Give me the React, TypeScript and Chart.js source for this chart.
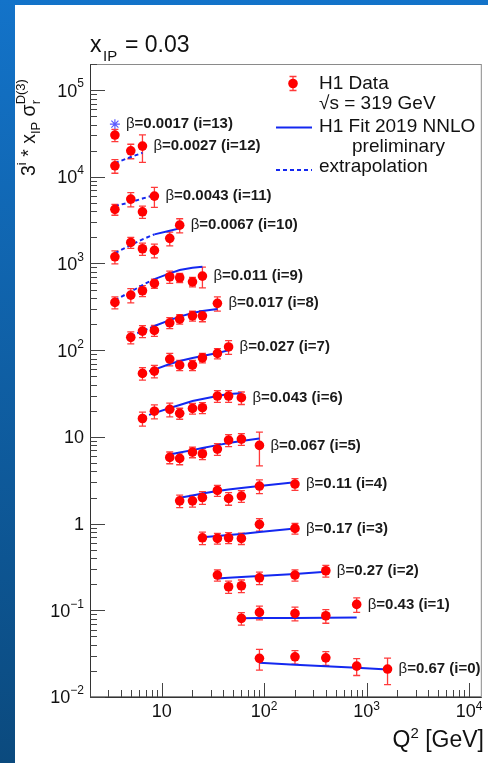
import React, { useEffect, useRef } from 'react';
import { Chart, registerables } from 'chart.js';

Chart.register(...registerables);

const FONT = '"Liberation Sans", Arial, Helvetica, sans-serif';

// beta value of each series i = 0..13
const betaLabels = ['0.67', '0.43', '0.27', '0.17', '0.11', '0.067', '0.043', '0.027', '0.017', '0.011', '0.0067', '0.0043', '0.0027', '0.0017'];

// Q^2 values (GeV^2) of the measured points of each series i
const q2Points: number[][] = [
  [90, 200, 400, 800, 1600],
  [60, 90, 200, 400, 800],
  [35, 45, 60, 90, 200, 400],
  [25, 35, 45, 60, 90, 200],
  [15, 20, 25, 35, 45, 60, 90, 200],
  [12, 15, 20, 25, 35, 45, 60, 90],
  [6.5, 8.5, 12, 15, 20, 25, 35, 45, 60],
  [6.5, 8.5, 12, 15, 20, 25, 35, 45],
  [5, 6.5, 8.5, 12, 15, 20, 25, 35],
  [3.5, 5, 6.5, 8.5, 12, 15, 20, 25],
  [3.5, 5, 6.5, 8.5, 12, 15],
  [3.5, 5, 6.5, 8.5],
  [3.5, 5, 6.5],
  [3.5],
];

// 3^i * x_IP * sigma_r^D(3)
const sigmaValues: number[][] = [
  [0.0279, 0.0291, 0.0283, 0.0227, 0.021],
  [0.0807, 0.0946, 0.092, 0.0865, 0.117],
  [0.255, 0.187, 0.192, 0.237, 0.255, 0.286],
  [0.686, 0.675, 0.686, 0.675, 0.98, 0.88],
  [1.83, 1.83, 2.0, 2.41, 1.95, 2.08, 2.71, 2.86],
  [5.8, 5.65, 6.68, 6.39, 7.23, 9.18, 9.43, 7.98],
  [16.3, 19.8, 20.8, 18.7, 21.3, 21.7, 29.6, 29.6, 28.3],
  [54, 57.4, 79, 67.3, 67.3, 81.6, 91.8, 109],
  [140.6, 166, 169, 207, 228, 249, 249, 347],
  [356, 432, 485, 589, 703, 685, 615, 716],
  [1195, 1750, 1480, 1416, 1950, 2770],
  [4210, 5530, 3950, 5990],
  [13400, 19950, 22600],
  [30300],
];

// relative total uncertainties
const relErrors: number[][] = [
  [0.27, 0.18, 0.18, 0.22, 0.34],
  [0.165, 0.18, 0.18, 0.18, 0.19],
  [0.15, 0.16, 0.165, 0.165, 0.15, 0.155],
  [0.165, 0.14, 0.145, 0.15, 0.165, 0.14],
  [0.165, 0.155, 0.165, 0.145, 0.165, 0.155, 0.18, 0.155],
  [0.155, 0.155, 0.14, 0.145, 0.155, 0.16, 0.155, 0.42],
  [0.185, 0.185, 0.18, 0.145, 0.14, 0.145, 0.155, 0.155, 0.165],
  [0.165, 0.165, 0.165, 0.135, 0.135, 0.125, 0.135, 0.18],
  [0.16, 0.16, 0.145, 0.145, 0.125, 0.13, 0.145, 0.185],
  [0.16, 0.185, 0.145, 0.12, 0.16, 0.12, 0.125, 0.27],
  [0.17, 0.145, 0.16, 0.18, 0.18, 0.185],
  [0.145, 0.185, 0.16, 0.26],
  [0.18, 0.19, 0.35],
  [0.16],
];

// H1 Fit 2019 NNLO at the same Q^2 values
const fitValues: number[][] = [
  [0.0248, 0.0236, 0.0227, 0.0217, 0.0207],
  [0.0807, 0.0813, 0.0817, 0.082, 0.0828],
  [0.233, 0.238, 0.242, 0.249, 0.263, 0.278],
  [0.694, 0.718, 0.737, 0.757, 0.798, 0.88],
  [1.99, 2.11, 2.22, 2.37, 2.47, 2.57, 2.71, 2.99],
  [6.28, 6.59, 7.04, 7.43, 8.04, 8.48, 8.95, 9.61],
  [16.9, 18.8, 21.5, 23.3, 25.9, 27.3, 29.6, 31.2, 31.8],
  [54, 59.7, 69.2, 74.9, 81.1, 85.5, 92.6, 100],
  [146, 166, 190, 222, 244, 268, 283, 298],
  [378, 472, 564, 661, 769, 840, 892, 916],
  [1318, 1630, 1897, 2168, 2385, 2540],
  [4590, 5110, 5610, 6150],
  [14400, 16900, 18900],
  [40500],
];

const extrapolationBelowQ2 = 8.5;

const xDecades = [1, 2, 3, 4];
const yDecades = [-2, -1, 0, 1, 2, 3, 4, 5];
const xRange = [2, 13300];
const yRange = [0.01, 2e5];

const RED = '#ff0000';
const ERR = '#ff3a3a';
const BLUE = '#1428f0';
const DASH = [4, 3];

function decadeLabel(d: number) {
  if (d === 0) return { base: '1', sup: '' };
  if (d === 1) return { base: '10', sup: '' };
  return { base: '10', sup: d < 0 ? '\u2212' + -d : String(d) };
}

function drawErrorBar(ctx: CanvasRenderingContext2D, x: number, yTop: number, yBot: number) {
  ctx.beginPath();
  ctx.moveTo(x, yTop);
  ctx.lineTo(x, yBot);
  ctx.moveTo(x - 3.5, yTop);
  ctx.lineTo(x + 3.5, yTop);
  ctx.moveTo(x - 3.5, yBot);
  ctx.lineTo(x + 3.5, yBot);
  ctx.stroke();
}

const h1Plugin = {
  id: 'h1Decor',
  beforeDraw(chart: any) {
    const ctx: CanvasRenderingContext2D = chart.ctx;
    const w = chart.width, h = chart.height;
    ctx.save();
    const g = ctx.createLinearGradient(0, 0, 0, h);
    g.addColorStop(0, '#1373c9');
    g.addColorStop(1, '#0b4a7e');
    ctx.fillStyle = g;
    ctx.fillRect(0, 0, w, h);
    ctx.fillStyle = '#ffffff';
    ctx.fillRect(15, 5, w - 15, h - 5);
    ctx.restore();
  },
  beforeDatasetsDraw(chart: any) {
    const ctx: CanvasRenderingContext2D = chart.ctx;
    const xs = chart.scales.x, ys = chart.scales.y;
    ctx.save();
    ctx.strokeStyle = ERR;
    ctx.lineWidth = 1.3;
    q2Points.forEach((qs, i) => {
      qs.forEach((q, k) => {
        const v = sigmaValues[i][k], e = relErrors[i][k] * v;
        drawErrorBar(ctx, xs.getPixelForValue(q), ys.getPixelForValue(v + e), ys.getPixelForValue(v - e));
      });
    });
    ctx.restore();
  },
  afterDatasetsDraw(chart: any) {
    const ctx: CanvasRenderingContext2D = chart.ctx;
    const xs = chart.scales.x, ys = chart.scales.y;
    const a = chart.chartArea;
    ctx.save();

    // frame
    ctx.strokeStyle = '#8a8a8a';
    ctx.lineWidth = 1;
    ctx.strokeRect(a.left + 0.5, a.top + 0.5, a.right - a.left - 1, a.bottom - a.top - 1);
    ctx.strokeStyle = '#333333';
    ctx.beginPath();
    ctx.moveTo(a.left + 0.5, a.top);
    ctx.lineTo(a.left + 0.5, a.bottom + 0.5);
    ctx.lineTo(a.right, a.bottom + 0.5);
    ctx.stroke();

    // y ticks
    ctx.strokeStyle = '#444444';
    ctx.beginPath();
    for (let d = -2; d <= 5; d++) {
      for (let m = 1; m <= 9; m++) {
        const v = m * Math.pow(10, d);
        if (v < yRange[0] || v > yRange[1]) continue;
        const y = Math.round(ys.getPixelForValue(v)) + 0.5;
        const len = m === 1 ? 15 : 7;
        ctx.moveTo(a.left, y);
        ctx.lineTo(a.left + len, y);
      }
    }
    // x ticks
    for (let d = 0; d <= 4; d++) {
      for (let m = 1; m <= 9; m++) {
        const v = m * Math.pow(10, d);
        if (v < xRange[0] || v > xRange[1]) continue;
        const x = Math.round(xs.getPixelForValue(v)) + 0.5;
        const len = m === 1 ? 14 : 7;
        ctx.moveTo(x, a.bottom);
        ctx.lineTo(x, a.bottom - len);
      }
    }
    ctx.stroke();

    // tick labels
    ctx.fillStyle = '#111111';
    ctx.textBaseline = 'middle';
    ctx.textAlign = 'left';
    yDecades.forEach((d) => {
      const y = ys.getPixelForValue(Math.pow(10, d));
      const { base, sup } = decadeLabel(d);
      ctx.font = `18px ${FONT}`;
      const wb = ctx.measureText(base).width;
      ctx.font = `12px ${FONT}`;
      const ws = sup ? ctx.measureText(sup).width : 0;
      const x0 = 84 - wb - ws;
      ctx.font = `18px ${FONT}`;
      ctx.fillText(base, x0, y + 1.5);
      if (sup) {
        ctx.font = `12px ${FONT}`;
        ctx.fillText(sup, x0 + wb, y - 6);
      }
    });
    xDecades.forEach((d) => {
      const x = xs.getPixelForValue(Math.pow(10, d));
      const { base, sup } = decadeLabel(d);
      ctx.font = `18px ${FONT}`;
      const wb = ctx.measureText(base).width;
      ctx.font = `12px ${FONT}`;
      const ws = sup ? ctx.measureText(sup).width : 0;
      const x0 = x - (wb + ws) / 2;
      const y = a.bottom + 15;
      ctx.font = `18px ${FONT}`;
      ctx.fillText(base, x0, y);
      if (sup) {
        ctx.font = `12px ${FONT}`;
        ctx.fillText(sup, x0 + wb, y - 5);
      }
    });

    // series labels
    ctx.fillStyle = '#1a1a1a';
    q2Points.forEach((qs, i) => {
      const k = qs.length - 1;
      const v = qs.length === 1 ? fitValues[i][k] : sigmaValues[i][k];
      const x = xs.getPixelForValue(qs[k]) + 11;
      const y = ys.getPixelForValue(v);
      ctx.font = `15px ${FONT}`;
      ctx.fillText('\u03b2', x, y);
      const wb = ctx.measureText('\u03b2').width;
      ctx.font = `bold 15px ${FONT}`;
      ctx.fillText(`=${betaLabels[i]} (i=${i})`, x + wb, y);
    });

    // legend
    ctx.strokeStyle = ERR;
    ctx.lineWidth = 1.3;
    drawErrorBar(ctx, 293, 76.5, 90.5);
    ctx.fillStyle = RED;
    ctx.beginPath();
    ctx.arc(293, 83.5, 4.8, 0, Math.PI * 2);
    ctx.fill();
    ctx.strokeStyle = BLUE;
    ctx.lineWidth = 2;
    ctx.beginPath();
    ctx.moveTo(276, 127.5);
    ctx.lineTo(312, 127.5);
    ctx.stroke();
    ctx.setLineDash(DASH);
    ctx.beginPath();
    ctx.moveTo(276, 170);
    ctx.lineTo(312, 170);
    ctx.stroke();
    ctx.setLineDash([]);
    ctx.fillStyle = '#111111';
    ctx.font = `19px ${FONT}`;
    ctx.textBaseline = 'middle';
    ctx.fillText('H1 Data', 319, 83.5);
    ctx.fillText('\u221as = 319 GeV', 319, 103.5);
    ctx.fillText('H1 Fit 2019 NNLO', 319, 126.5);
    ctx.textAlign = 'center';
    ctx.fillText('preliminary', 398.5, 146.5);
    ctx.textAlign = 'left';
    ctx.fillText('extrapolation', 319, 167);

    // title x_IP = 0.03
    ctx.textBaseline = 'alphabetic';
    ctx.font = `23px ${FONT}`;
    ctx.fillText('x', 90, 52);
    ctx.font = `15px ${FONT}`;
    ctx.fillText('IP', 103, 61);
    ctx.font = `23px ${FONT}`;
    ctx.fillText('= 0.03', 125, 52);

    // x axis title
    ctx.font = `23px ${FONT}`;
    const wQ = ctx.measureText('Q').width;
    const wRest = ctx.measureText(' [GeV]').width;
    ctx.font = `15px ${FONT}`;
    const w2 = ctx.measureText('2').width;
    const xStart = 484 - wQ - w2 - wRest;
    ctx.font = `23px ${FONT}`;
    ctx.fillText('Q', xStart, 747);
    ctx.font = `15px ${FONT}`;
    ctx.fillText('2', xStart + wQ, 738);
    ctx.font = `23px ${FONT}`;
    ctx.fillText(' [GeV]', xStart + wQ + w2, 747);

    // y axis title (rotated)
    ctx.translate(35, 176);
    ctx.rotate(-Math.PI / 2);
    let u = 0;
    const run = (t: string, size: number, dy: number, advance = true) => {
      ctx.font = `${size}px ${FONT}`;
      ctx.fillText(t, u, dy);
      const w = ctx.measureText(t).width;
      if (advance) u += w;
      return w;
    };
    run('3', 19.5, 0);
    run('i', 13, -9);
    run(' * ', 19.5, 0);
    run('x', 19.5, 0);
    run('IP', 13, 5);
    run(' \u03c3', 19.5, 0);
    run('r', 13, 5, false);
    run('D(3)', 13, -10);
    ctx.restore();
  },
};

export default function App() {
  const ref = useRef<HTMLCanvasElement | null>(null);
  useEffect(() => {
    if (!ref.current) return;
    const datasets: any[] = [];
    q2Points.forEach((qs, i) => {
      const fit = qs.map((q, k) => ({ x: q, y: fitValues[i][k] }));
      if (qs.length > 1) {
        const dotted = fit.filter((p) => p.x <= extrapolationBelowQ2);
        const solid = fit.filter((p) => p.x >= extrapolationBelowQ2);
        if (dotted.length > 1)
          datasets.push({ data: dotted, showLine: true, pointRadius: 0, borderColor: BLUE, borderWidth: 2, borderDash: DASH, order: 2 });
        if (solid.length > 1)
          datasets.push({ data: solid, showLine: true, pointRadius: 0, borderColor: BLUE, borderWidth: 2, order: 2 });
      } else {
        datasets.push({ data: fit, showLine: false, pointStyle: 'star', pointRadius: 5, borderColor: '#5a5aff', pointBorderColor: '#5a5aff', pointBorderWidth: 1.2, order: 1 });
      }
      datasets.push({
        data: qs.map((q, k) => ({ x: q, y: sigmaValues[i][k] })),
        showLine: false,
        pointRadius: 4.8,
        pointBackgroundColor: RED,
        pointBorderColor: RED,
        pointBorderWidth: 0,
        order: 1,
      });
    });
    const chart = new Chart(ref.current, {
      type: 'scatter',
      data: { datasets },
      options: {
        animation: false,
        responsive: false,
        devicePixelRatio: 1,
        events: [],
        layout: { padding: { left: 90, top: 64, right: 5, bottom: 66 } },
        plugins: { legend: { display: false }, tooltip: { enabled: false }, title: { display: false } },
        scales: {
          x: { type: 'logarithmic', min: xRange[0], max: xRange[1], display: false },
          y: { type: 'logarithmic', min: yRange[0], max: yRange[1], display: false },
        },
      },
      plugins: [h1Plugin],
    } as any);
    return () => chart.destroy();
  }, []);
  return (
    <div style={{ position: 'fixed', left: 0, top: 0, width: 488, height: 763 }}>
      <canvas ref={ref} width={488} height={763} style={{ width: 488, height: 763, display: 'block' }} />
    </div>
  );
}
